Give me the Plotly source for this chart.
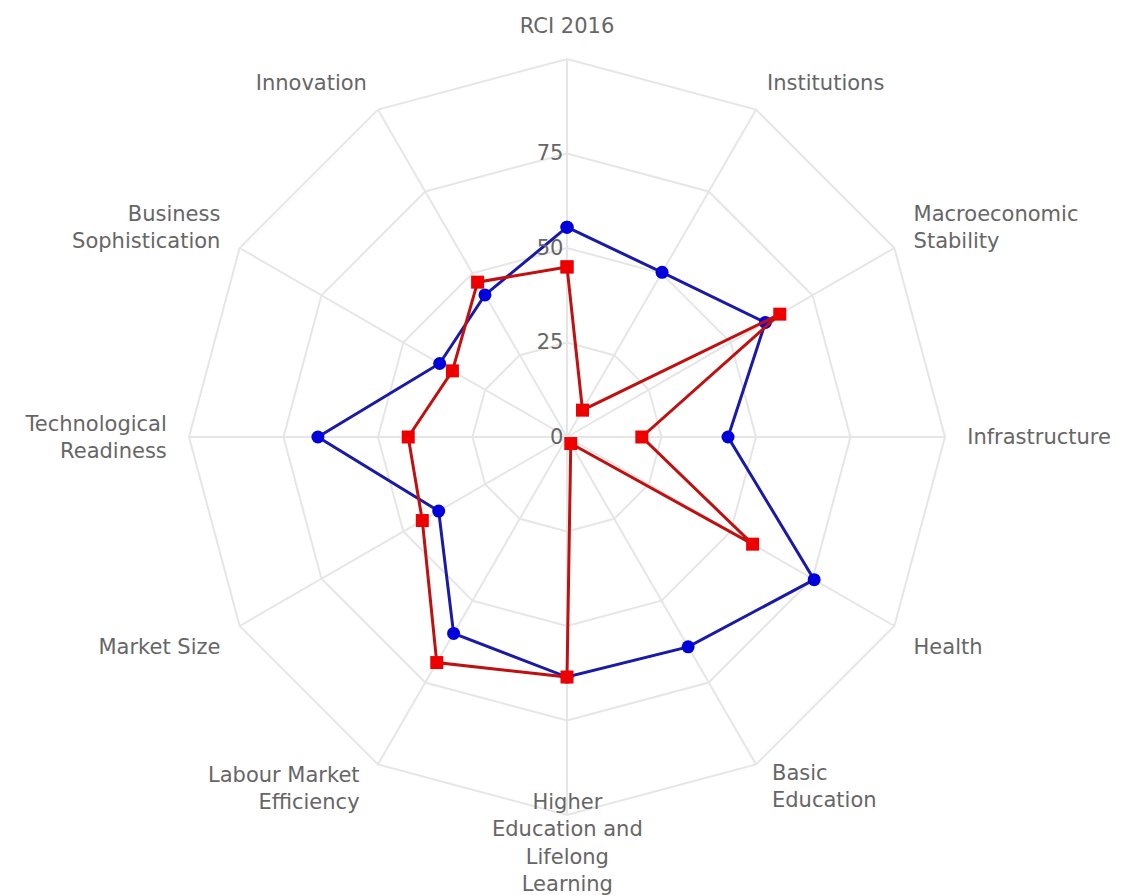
import math
import plotly.graph_objects as go

categories = [
    "RCI 2016", "Institutions", "Macroeconomic<br>Stability", "Infrastructure",
    "Health", "Basic<br>Education", "Higher<br>Education and<br>Lifelong<br>Learning",
    "Labour Market<br>Efficiency", "Market Size", "Technological<br>Readiness",
    "Business<br>Sophistication", "Innovation",
]
blue_values = [55.5, 50.3, 60.6, 42.6, 75.5, 64.1, 63.5, 60.0, 39.2, 65.9, 38.9, 43.4]
red_values = [45.0, 8.2, 65.0, 19.8, 56.7, 2.0, 63.5, 68.9, 44.2, 42.0, 35.0, 47.3]
radial_ticks = [0, 25, 50, 75, 100]
radial_tick_text = ["0", "25", "50", "75", ""]

# the lower category labels are drawn as annotations so they can sit close to the grid like the original
annotated = {5: ("left", 14, 22), 6: ("center", 0, 28), 7: ("right", -16, 24)}
angular_tick_text = ["" if i in annotated else c for i, c in enumerate(categories)]

def closed(vals):
    return vals + vals[:1]

theta = closed(categories)

fig = go.Figure()
fig.add_trace(go.Scatterpolar(
    r=closed(blue_values), theta=theta, mode="lines+markers",
    line=dict(color="#1a1aa8", width=3),
    marker=dict(symbol="circle", size=13, color="#0000dd"),
    name="Series 1", hoverinfo="skip",
))
fig.add_trace(go.Scatterpolar(
    r=closed(red_values), theta=theta, mode="lines+markers",
    line=dict(color="#c01010", width=3),
    marker=dict(symbol="square", size=13, color="#ee0000"),
    name="Series 2", hoverinfo="skip",
))

H = 895
W = 1124
cx, cy, R = 559, 429, 378  # page body margin adds 8px
fs = 21

annotations = []
n = len(categories)
for i, (anchor, dx, dy) in annotated.items():
    ang = 2 * math.pi * i / n
    vx = cx + R * math.sin(ang) + dx
    vy = cy - R * math.cos(ang) + dy
    annotations.append(dict(
        text=categories[i], xref="paper", yref="paper",
        x=vx / W, y=(H - vy) / H,
        xanchor=anchor, yanchor="middle", showarrow=False,
        font=dict(size=fs, color="#666666"), align=anchor,
    ))

fig.update_layout(
    width=W, height=H,
    margin=dict(l=0, r=0, t=0, b=0),
    paper_bgcolor="white",
    showlegend=False,
    font=dict(family="DejaVu Sans", size=fs, color="#666666"),
    polar=dict(
        domain=dict(x=[(cx - R) / W, (cx + R) / W], y=[(H - cy - R) / H, (H - cy + R) / H]),
        gridshape="linear",
        bgcolor="white",
        angularaxis=dict(
            direction="clockwise", rotation=90,
            categoryorder="array", categoryarray=categories,
            tickmode="array", tickvals=categories, ticktext=angular_tick_text,
            showline=True, linecolor="#e6e6e6", linewidth=2,
            gridcolor="#e6e6e6", gridwidth=1.5,
            ticks="outside", ticklen=17, tickcolor="rgba(0,0,0,0)",
            tickfont=dict(size=fs, color="#666666"),
        ),
        radialaxis=dict(
            range=[0, 100], angle=90, side="counterclockwise",
            tickvals=radial_ticks, ticktext=radial_tick_text,
            showline=False, ticks="", gridcolor="#e6e6e6", gridwidth=2,
            tickfont=dict(size=fs, color="#666666"), tickangle=90,
        ),
    ),
    annotations=annotations,
)

fig.write_html("out.html")
